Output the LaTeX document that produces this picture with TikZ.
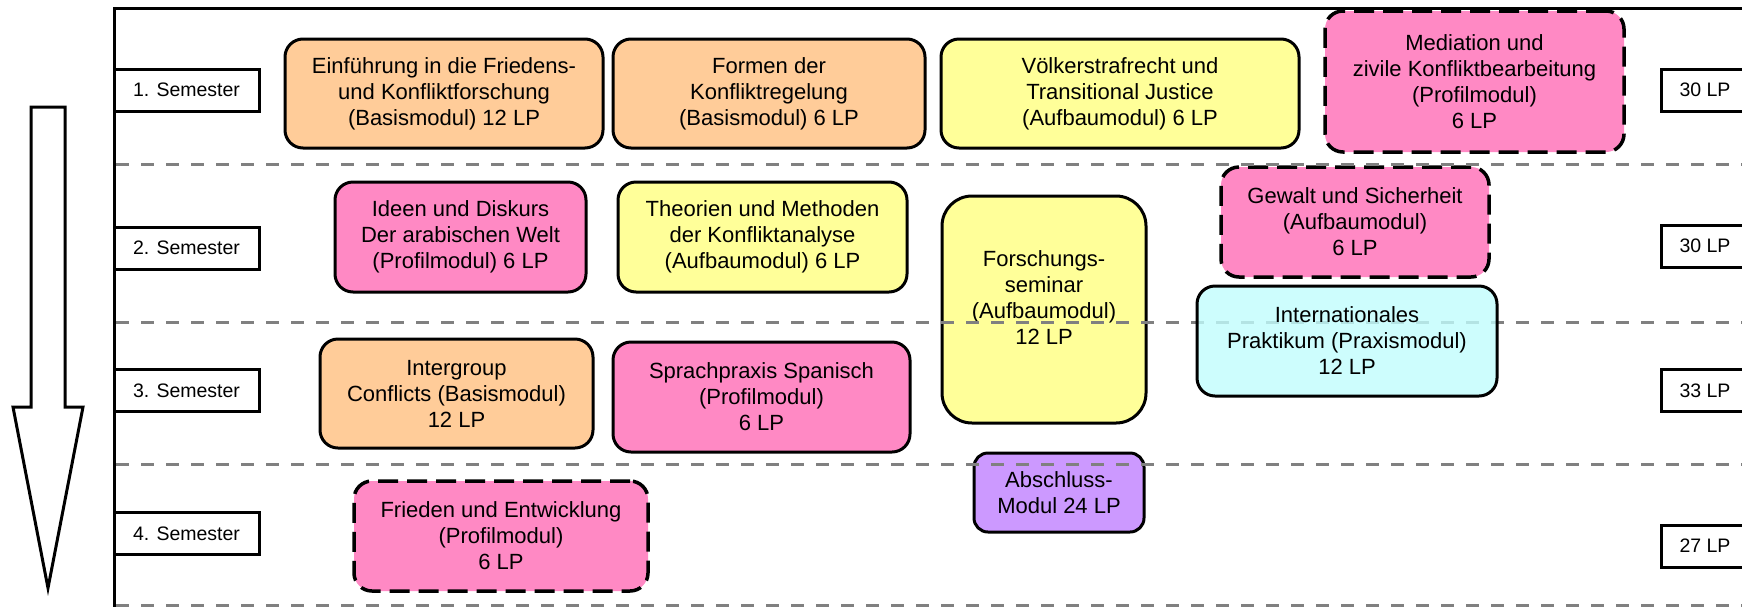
\documentclass[tikz,border=0pt]{standalone}
\usepackage{fontspec}
\setmainfont{Liberation Sans}
\definecolor{peach}{RGB}{255,204,153}
\definecolor{lemon}{RGB}{255,255,153}
\definecolor{rose}{RGB}{255,137,196}
\definecolor{sky}{RGB}{192,252,252}
\definecolor{lilac}{RGB}{204,153,255}
\definecolor{sepgray}{RGB}{128,128,128}

\begin{document}
\begin{tikzpicture}
      [x = 1pt, y = -1pt,
      modul/.style= {
         draw,
         line width = 3pt,
         rounded corners = 18pt,
         align = center,
         inner sep = 0pt,
         font = \fontsize{22}{26}\selectfont
      },
      wahl/.style= {
         modul,
         line width = 3.5pt,
         dash pattern = on 20pt off 9pt
      },
      sem/.style= {
         draw,
         fill = white,
         line width = 3pt,
         minimum width = 145pt,
         minimum height = 42pt,
         inner sep = 0pt,
         font = \fontsize{19.5}{23}\selectfont
      },
      lp/.style= {
         sem,
         minimum width = 88pt
      },
      sep/.style= {
         draw = sepgray,
         line width = 3pt,
         dash pattern = on 13pt off 12pt
      }]

      \useasboundingbox (0, 0) rectangle (1742, 606);

      \draw[line width = 3pt, fill = white]
         (31, 107) -- (65, 107) -- (65, 407) -- (83, 407) -- (48, 588)
         -- (13, 407) -- (31, 407) -- cycle;

      \draw[line width = 3pt] (114, 610) -- (114, 8) -- (1760, 8);

      \node[sem] (s1) at (186.5, 90) {1. Semester};
      \node[sem] (s2) at (186.5, 248) {2. Semester};
      \node[sem] (s3) at (186.5, 390.5) {3. Semester};
      \node[sem] (s4) at (186.5, 533.5) {4. Semester};

      \node[lp] (lp1) at (1705, 90) {30 LP};
      \node[lp] (lp2) at (1705, 246) {30 LP};
      \node[lp] (lp3) at (1705, 390.5) {33 LP};
      \node[lp] (lp4) at (1705, 546) {27 LP};

      \node[modul, fill = peach, minimum width = 318pt, minimum height = 109pt]
         (efk) at (444, 93.5) {Einführung in die Friedens-\\und Konfliktforschung\\(Basismodul) 12 LP};
      \node[modul, fill = peach, minimum width = 312pt, minimum height = 109pt]
         (fkr) at (769, 93.5) {Formen der\\Konfliktregelung\\(Basismodul) 6 LP};
      \node[modul, fill = lemon, minimum width = 358pt, minimum height = 109pt]
         (vtj) at (1120, 93.5) {Völkerstrafrecht und\\Transitional Justice\\(Aufbaumodul) 6 LP};
      \node[wahl, fill = rose, minimum width = 299pt, minimum height = 141pt]
         (med) at (1474.5, 81.5) {Mediation und\\zivile Konfliktbearbeitung\\(Profilmodul)\\6 LP};

      \node[modul, fill = rose, minimum width = 251pt, minimum height = 110pt]
         (ida) at (460.5, 237) {Ideen und Diskurs\\Der arabischen Welt\\(Profilmodul) 6 LP};
      \node[modul, fill = lemon, minimum width = 289pt, minimum height = 110pt]
         (tmk) at (762.5, 237) {Theorien und Methoden\\der Konfliktanalyse\\(Aufbaumodul) 6 LP};
      \node[modul, fill = lemon, rounded corners = 30pt, minimum width = 204pt, minimum height = 227pt]
         (fsbox) at (1044, 309.5) {};
      \node[modul, draw = none] (fs) at ([yshift = 12pt]fsbox.center)
         {Forschungs-\\seminar\\(Aufbaumodul)\\12 LP};
      \node[wahl, fill = rose, minimum width = 268pt, minimum height = 110pt]
         (gws) at (1355, 222) {Gewalt und Sicherheit\\(Aufbaumodul)\\6 LP};

      \node[modul, fill = peach, minimum width = 273pt, minimum height = 109pt]
         (igc) at (456.5, 393.5) {Intergroup\\Conflicts (Basismodul)\\12 LP};
      \node[modul, fill = rose, minimum width = 297pt, minimum height = 110pt]
         (sps) at (761.5, 397) {Sprachpraxis Spanisch\\(Profilmodul)\\6 LP};

      \node[modul, fill = lilac, rounded corners = 14pt, minimum width = 170pt, minimum height = 79pt]
         (abs) at (1059, 492.5) {Abschluss-\\Modul 24 LP};
      \node[wahl, fill = rose, minimum width = 294pt, minimum height = 110pt]
         (fue) at (501, 536) {Frieden und Entwicklung\\(Profilmodul)\\6 LP};

      \foreach \y in {164, 322, 464, 605}
         \draw[sep] (116, \y) -- (1760, \y);

      \node[modul, fill = sky, fill opacity = 0.8, text opacity = 1, minimum width = 300pt, minimum height = 110pt]
         (ipr) at (1347, 341) {Internationales\\Praktikum (Praxismodul)\\12 LP};

   \end{tikzpicture}
\end{document}
